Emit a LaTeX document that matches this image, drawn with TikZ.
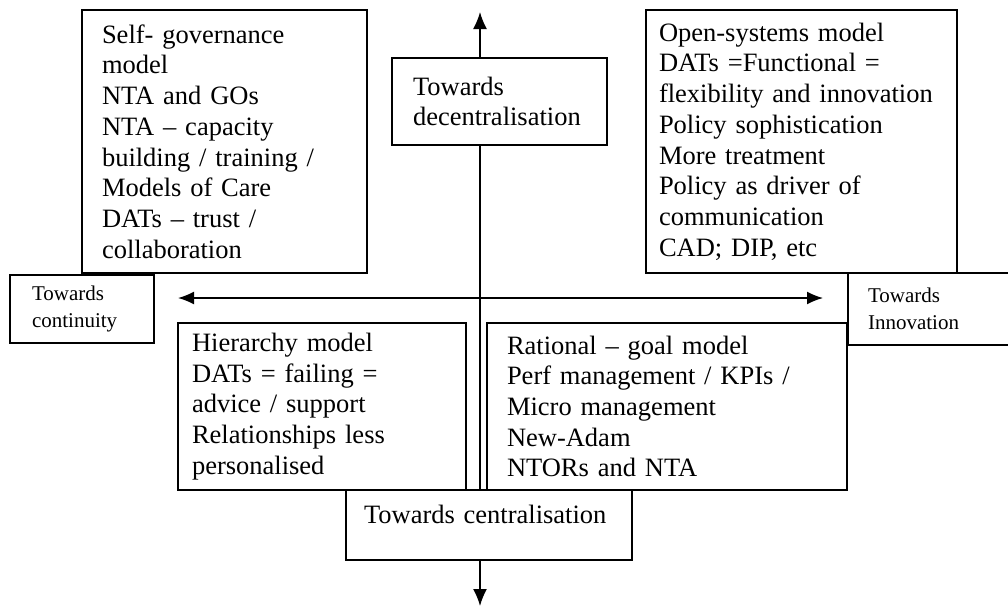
\documentclass[tikz,border=0pt]{standalone}
\usepackage{fontspec}
\setmainfont{Liberation Serif}
\usetikzlibrary{arrows.meta}

\begin{document}
\begin{tikzpicture}[x=1pt,y=-1pt, line width=1.6pt,
    modelbox/.style={draw, fill=white, rectangle, align=left, font=\fontsize{26.5}{30.7}\selectfont},
    sidebox/.style={draw, fill=white, rectangle, align=left, font=\fontsize{21}{27}\selectfont},
    axis/.style={-{Latex[length=17pt,width=14pt]}},
    twoway/.style={{Latex[length=16pt,width=13pt]}-{Latex[length=16pt,width=13pt]}}]
    \useasboundingbox (0,0) rectangle (1008,608);
    % the four models and the axis ends
    \node[modelbox, text width=245pt, inner xsep=20pt, minimum height=263pt] (gov) at (224.5,141.5) {Self- governance\\ model\\ NTA and GOs\\ NTA -- capacity\\ building / training /\\ Models of Care\\ DATs -- trust /\\ collaboration};
    \node[modelbox, text width=173pt, inner xsep=21pt, minimum height=87pt] (dec) at (499.5,101.5) {Towards\\ decentralisation};
    \node[modelbox, text width=285pt, inner xsep=13pt, minimum height=263pt] (open) at (801.5,141.5) {Open-systems model\\ DATs =Functional =\\ flexibility and innovation\\ Policy sophistication\\ More treatment\\ Policy as driver of\\ communication\\ CAD; DIP, etc};
    \node[sidebox, text width=100pt, inner xsep=22pt, minimum height=68pt] (cont) at (82,309) {Towards\\ continuity};
    \node[sidebox, text width=124pt, inner xsep=20pt, minimum height=72pt] (innov) at (930,309) {Towards\\ Innovation};
    \node[modelbox, text width=260pt, inner xsep=14pt, minimum height=167pt] (hier) at (322,406.5) {Hierarchy model\\ DATs = failing =\\ advice / support\\ Relationships less\\ personalised};
    \node[modelbox, text width=320pt, inner xsep=20pt, minimum height=167pt] (rat) at (667,406.5) {Rational -- goal model\\ Perf management / KPIs /\\ Micro management\\ New-Adam\\ NTORs and NTA};
    \node[modelbox, text width=250pt, inner xsep=18pt, minimum height=70pt, text height=18pt, text depth=22pt] (cen) at (489,525) {Towards centralisation};
    % axes
    \coordinate (nTip) at (480,12);
    \coordinate (sTip) at (480,606);
    \coordinate (wTip) at (178,298);
    \coordinate (eTip) at (823,298);
    \draw[axis] (dec.north -| nTip) -- (nTip);
    \draw (dec.south -| nTip) -- (cen.north -| nTip);
    \draw[axis] (cen.south -| sTip) -- (sTip);
    \draw[twoway] (wTip) -- (eTip);
\end{tikzpicture}
\end{document}
